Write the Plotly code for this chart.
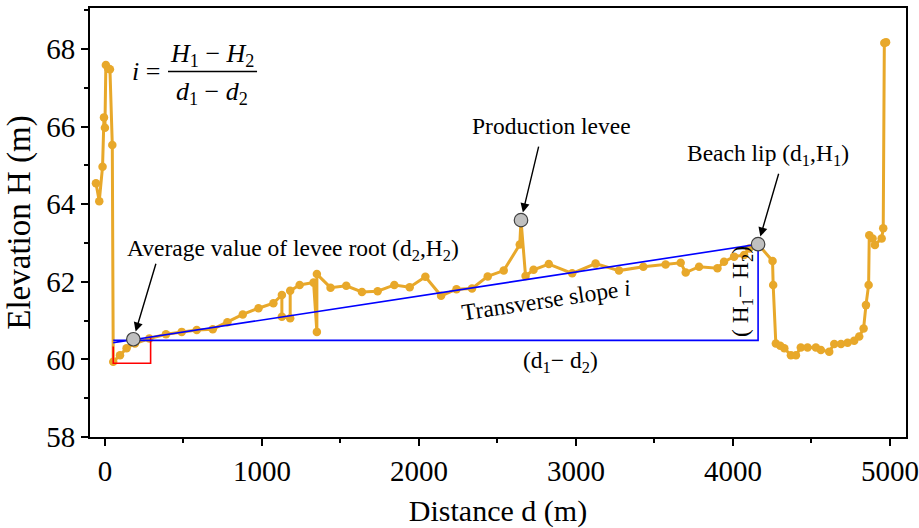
import plotly.graph_objects as go

# Cross-section profile of the tailings beach: distance (m) and elevation H (m)
distance = [-57, -36, -15, -6, 0, 6, 21, 32, 47, 53, 96, 138, 191, 283, 389, 489, 585, 687,
            780, 878, 978, 1073, 1127, 1127, 1180, 1180, 1240, 1329, 1350, 1350, 1437, 1537,
            1637, 1737, 1843, 1941, 2041, 2141, 2239, 2338, 2438, 2540, 2642, 2650, 2679,
            2730, 2827, 2976, 3125, 3274, 3429, 3571, 3667, 3699, 3784, 3901, 3943, 4007,
            4071, 4103, 4160, 4252, 4256, 4273, 4301, 4327, 4369, 4401, 4432, 4475, 4528,
            4560, 4613, 4645, 4688, 4730, 4772, 4804, 4832, 4847, 4864, 4868, 4889, 4904,
            4947, 4957, 4964, 4975]
elevation = [64.54, 64.08, 64.97, 66.24, 65.97, 67.59, 67.50, 67.48, 65.53, 59.94, 60.11,
             60.29, 60.41, 60.54, 60.65, 60.71, 60.76, 60.78, 60.96, 61.16, 61.32, 61.45,
             61.66, 61.10, 61.06, 61.77, 61.92, 61.98, 60.71, 62.20, 61.85, 61.90, 61.74,
             61.76, 61.92, 61.86, 62.13, 61.64, 61.81, 61.83, 62.14, 62.29, 62.96, 63.59,
             62.15, 62.31, 62.46, 62.22, 62.47, 62.29, 62.39, 62.45, 62.49, 62.24, 62.39,
             62.35, 62.52, 62.65, 62.69, 62.86, 62.97, 62.54, 61.92, 60.41, 60.35, 60.29,
             60.11, 60.11, 60.31, 60.31, 60.31, 60.24, 60.20, 60.40, 60.40, 60.43, 60.48,
             60.59, 60.80, 61.40, 61.92, 63.20, 63.12, 62.95, 63.12, 63.38, 68.16, 68.18]

# Key points: levee root (d2,H2), production levee, beach lip (d1,H1)
key_d = [181, 2650, 4160]
key_h = [60.52, 63.59, 62.97]

# Slope triangle
slope_d = [53, 4160]
slope_h = [60.43, 62.97]
base_h = 60.49

# Red bracket at the levee root
bracket_d = [53, 53, 291, 291]
bracket_h = [60.33, 59.90, 59.90, 60.57]

GOLD = "#E8A82A"
SERIF = "Liberation Serif, Times New Roman, serif"

fig = go.Figure()

fig.add_trace(go.Scatter(
    x=distance, y=elevation, mode="lines+markers",
    line=dict(color=GOLD, width=3),
    marker=dict(color=GOLD, size=8.5),
    showlegend=False, hoverinfo="skip"))

fig.add_trace(go.Scatter(
    x=bracket_d, y=bracket_h, mode="lines",
    line=dict(color="#FF0000", width=1.6), showlegend=False, hoverinfo="skip"))

fig.add_trace(go.Scatter(
    x=[slope_d[0], slope_d[1], slope_d[1], slope_d[0]],
    y=[base_h, base_h, slope_h[1], slope_h[0]],
    mode="lines", line=dict(color="#0000FF", width=1.6),
    showlegend=False, hoverinfo="skip"))

fig.add_trace(go.Scatter(
    x=key_d, y=key_h, mode="markers",
    marker=dict(color="#C0C0C0", size=13.5, line=dict(color="#404040", width=1.2)),
    showlegend=False, hoverinfo="skip"))

# Arrows to the key points
arrow_offsets = [(23, -77), (18, -75), (21, -72)]
for (d, h), (axo, ayo) in zip(zip(key_d, key_h), arrow_offsets):
    fig.add_annotation(x=d, y=h, ax=axo, ay=ayo, text="", showarrow=True,
                       arrowhead=2, arrowsize=1.3, arrowwidth=1.4,
                       arrowcolor="black", standoff=8)

label_font = dict(family=SERIF, size=23.5, color="black")
labels = [
    (1199, 62.82, "Average value of levee root (d<sub>2</sub>,H<sub>2</sub>)", 0),
    (2844, 66.02, "Production levee", 0),
    (4222, 65.27, "Beach lip (d<sub>1</sub>,H<sub>1</sub>)", 0),
    (2806, 61.53, "Transverse slope <i>i</i>", -8.5),
    (2902, 59.93, "(d<sub>1</sub>\u2212 d<sub>2</sub>)", 0),
    (4056, 61.76, "( H<sub>1</sub>\u2212 H<sub>2</sub>)", -90),
]
for lx, ly, txt, ang in labels:
    fig.add_annotation(x=lx, y=ly, text=txt, showarrow=False, textangle=ang,
                       xanchor="center", yanchor="middle", font=label_font)

# Slope formula i = (H1 - H2) / (d1 - d2)
formula_font = dict(family=SERIF, size=26, color="black")
formula = [
    (0.0686, 0.852, "<i>i</i> ="),
    (0.1500, 0.890, "<i>H</i><sub>1</sub> \u2212 <i>H</i><sub>2</sub>"),
    (0.1500, 0.802, "<i>d</i><sub>1</sub> \u2212 <i>d</i><sub>2</sub>"),
]
for fx, fy, txt in formula:
    fig.add_annotation(xref="paper", yref="paper", x=fx, y=fy, text=txt, showarrow=False,
                       xanchor="center", yanchor="middle", font=formula_font)
fig.add_shape(type="line", xref="paper", yref="paper", x0=0.0956, x1=0.2047,
              y0=0.852, y1=0.852, line=dict(color="black", width=1.3))

axis_common = dict(showgrid=False, zeroline=False, showline=True, linecolor="black",
                   linewidth=1.8, mirror=True, ticks="outside", tickcolor="black",
                   ticklen=7, tickwidth=1.5, automargin=False,
                   tickfont=dict(family=SERIF, size=29, color="black"))

fig.update_xaxes(range=[-95, 5102], tickvals=[0, 1000, 2000, 3000, 4000, 5000],
                 minor=dict(ticks="outside", ticklen=4, dtick=500, tick0=0, tickcolor="black"),
                 title=dict(text="Distance d (m)", font=dict(family=SERIF, size=30, color="black"),
                            standoff=18),
                 **axis_common)
fig.update_yaxes(range=[58, 69.06], tickvals=[58, 60, 62, 64, 66, 68],
                 minor=dict(ticks="outside", ticklen=4, dtick=1, tick0=58, tickcolor="black"),
                 title=dict(text="Elevation H (m)", font=dict(family=SERIF, size=33, color="black"),
                            standoff=6),
                 **axis_common)

fig.update_layout(width=919, height=528, margin=dict(l=90, r=13, t=8, b=91),
                  plot_bgcolor="white", paper_bgcolor="white")

fig.write_html("out.html")
